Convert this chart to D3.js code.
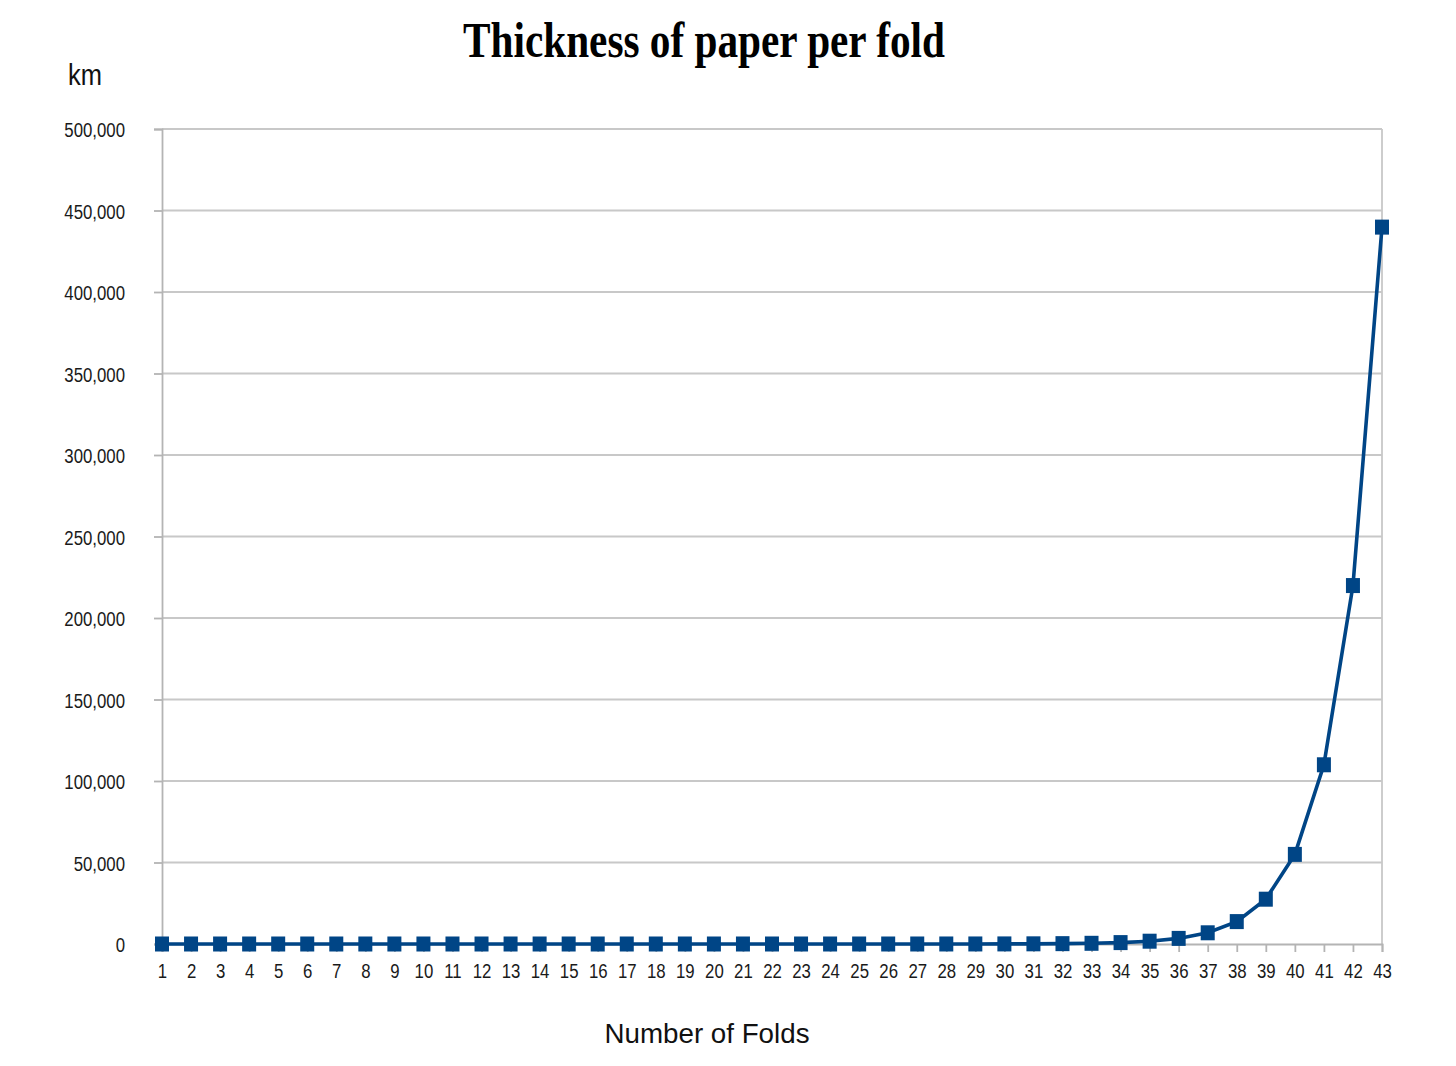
<!DOCTYPE html>
<html>
<head>
<meta charset="utf-8">
<script src="https://cdn.jsdelivr.net/npm/d3@7"></script>
<style>
  body { margin: 0; background: #fff; }
  svg { display: block; }
</style>
</head>
<body>
<svg id="chart" width="1456" height="1066"></svg>
<script>
// folds 1..43
var folds = [1,2,3,4,5,6,7,8,9,10,11,12,13,14,15,16,17,18,19,20,21,22,23,24,25,26,27,28,29,30,31,32,33,34,35,36,37,38,39,40,41,42,43];
// thickness in km (0.1 mm sheet)
var thickness = [0.0000001, 0.0000002, 0.0000004, 0.0000008, 0.0000016, 0.0000032, 0.0000064, 0.0000128,
  0.0000256, 0.0000512, 0.0001024, 0.0002048, 0.0004096, 0.0008192, 0.0016384, 0.0032768, 0.0065536,
  0.0131072, 0.0262144, 0.0524288, 0.1048576, 0.2097152, 0.4194304, 0.84, 1.68, 3.36, 6.71, 13.4, 26.8,
  53.7, 107, 215, 429, 859, 1718, 3436, 6872, 13744, 27488, 54976, 109951, 219902, 439805];
var yTicks = [0, 50000, 100000, 150000, 200000, 250000, 300000, 350000, 400000, 450000, 500000];

var svg = d3.select("#chart");
var plotL = 162, plotR = 1382, plotT = 129, plotB = 944;
var blue = "#004586";
var sx = 0.8; // tick labels look condensed

var x = d3.scalePoint().domain(folds).range([plotL, plotR]);
var y = d3.scaleLinear().domain([0, 500000]).range([plotB, plotT]);

// grid
svg.append("g")
  .selectAll("line").data(yTicks.slice(1)).enter().append("line")
  .attr("x1", plotL).attr("x2", plotR)
  .attr("y1", function(d){ return y(d); }).attr("y2", function(d){ return y(d); })
  .attr("stroke", "#c8c8c8").attr("stroke-width", 1.8);

// right border
svg.append("line")
  .attr("x1", plotR).attr("x2", plotR).attr("y1", plotT).attr("y2", plotB)
  .attr("stroke", "#c8c8c8").attr("stroke-width", 1.8);

// y axis
var yAxis = svg.append("g").attr("transform", "translate(" + plotL + ",0)")
  .call(d3.axisLeft(y).tickValues(yTicks).tickSize(8).tickPadding(0)
    .tickFormat(d3.format(",")));
yAxis.select(".domain").attr("stroke", "#b4b4b4").attr("stroke-width", 1.8);
yAxis.selectAll(".tick line").attr("stroke", "#b4b4b4").attr("stroke-width", 1.8);
yAxis.selectAll(".tick text")
  .attr("x", -37 / sx).attr("dy", "0.36em")
  .attr("transform", "scale(" + sx + ",1)")
  .style("font-family", "'Liberation Sans', Arial, sans-serif")
  .style("font-size", "21px").attr("fill", "#1a1a1a");

// x axis
var xAxis = svg.append("g").attr("transform", "translate(0," + plotB + ")")
  .call(d3.axisBottom(x).tickSize(8).tickPadding(0));
xAxis.select(".domain").attr("stroke", "#b4b4b4").attr("stroke-width", 1.8);
xAxis.selectAll(".tick line").attr("stroke", "#b4b4b4").attr("stroke-width", 1.8);
xAxis.selectAll(".tick text")
  .attr("y", 34).attr("dy", null)
  .attr("transform", "scale(" + sx + ",1)")
  .style("font-family", "'Liberation Sans', Arial, sans-serif")
  .style("font-size", "21px").attr("fill", "#1a1a1a");

// series
var line = d3.line()
  .x(function(d, i){ return x(folds[i]); })
  .y(function(d){ return y(d); });
svg.append("path").datum(thickness)
  .attr("d", line).attr("fill", "none")
  .attr("stroke", blue).attr("stroke-width", 3.6);

svg.append("g").selectAll("rect").data(thickness).enter().append("rect")
  .attr("x", function(d, i){ return x(folds[i]) - 7; })
  .attr("y", function(d){ return y(d) - 7.5; })
  .attr("width", 14).attr("height", 15)
  .attr("fill", blue);

// texts
svg.append("text")
  .attr("x", 704).attr("y", 57)
  .attr("text-anchor", "middle")
  .attr("textLength", 482).attr("lengthAdjust", "spacingAndGlyphs")
  .style("font-family", "'Liberation Serif', 'Times New Roman', serif")
  .style("font-weight", "bold").style("font-size", "51px")
  .text("Thickness of paper per fold");

svg.append("text")
  .attr("x", 68).attr("y", 85)
  .attr("textLength", 34).attr("lengthAdjust", "spacingAndGlyphs")
  .style("font-family", "'Liberation Sans', Arial, sans-serif")
  .style("font-size", "30px").attr("fill", "#111")
  .text("km");

svg.append("text")
  .attr("x", 707).attr("y", 1043)
  .attr("text-anchor", "middle")
  .attr("textLength", 205).attr("lengthAdjust", "spacingAndGlyphs")
  .style("font-family", "'Liberation Sans', Arial, sans-serif")
  .style("font-size", "27px").attr("fill", "#111")
  .text("Number of Folds");
</script>
</body>
</html>
